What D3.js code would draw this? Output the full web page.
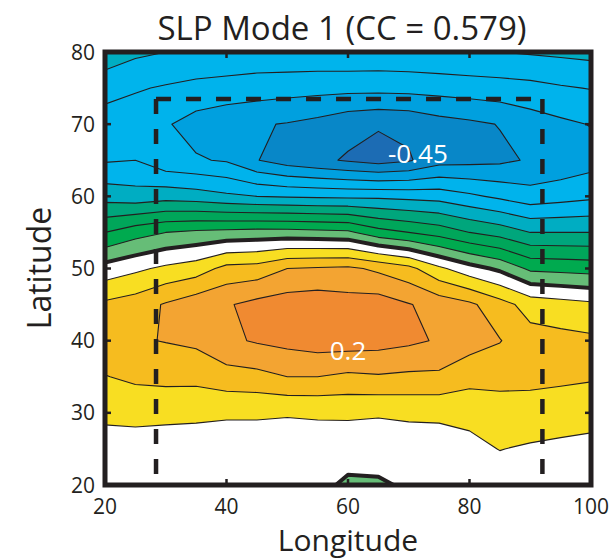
<!DOCTYPE html>
<html><head><meta charset="utf-8">
<script src="https://cdn.jsdelivr.net/npm/d3@7"></script>
<style>body{margin:0;background:#fff} svg{display:block}</style>
</head><body>
<svg id="chart" width="613" height="560"></svg>
<script>
// ---- data (grid of SLP regression values, 5 deg spacing) ----
const lons = [20,25,30,35,40,45,50,55,60,65,70,75,80,85,90,95,100];
const lats = [80,75,70,65,60,55,50,45,40,35,30,25,20];
const slp80 = [-0.22,-0.24,-0.25,-0.255,-0.26,-0.265,-0.262,-0.262,-0.26,-0.262,-0.26,-0.255,-0.252,-0.25,-0.245,-0.24,-0.235];
const slp75 = [-0.28,-0.295,-0.305,-0.315,-0.32,-0.325,-0.33,-0.333,-0.335,-0.335,-0.333,-0.33,-0.325,-0.32,-0.315,-0.305,-0.298];
const slp70 = [-0.325,-0.33,-0.345,-0.37,-0.385,-0.395,-0.403,-0.415,-0.435,-0.445,-0.44,-0.42,-0.41,-0.398,-0.375,-0.36,-0.348];
const slp65 = [-0.305,-0.30,-0.335,-0.345,-0.355,-0.398,-0.425,-0.44,-0.455,-0.47,-0.455,-0.42,-0.415,-0.41,-0.395,-0.385,-0.37];
const slp60 = [-0.22,-0.23,-0.22,-0.227,-0.24,-0.25,-0.255,-0.258,-0.26,-0.26,-0.265,-0.27,-0.29,-0.31,-0.33,-0.32,-0.31];
const slp55 = [-0.10,-0.07,-0.05,-0.04,-0.035,-0.03,-0.03,-0.035,-0.04,-0.08,-0.10,-0.12,-0.15,-0.17,-0.20,-0.20,-0.20];
const slp50 = [0.02,0.04,0.06,0.075,0.115,0.12,0.15,0.155,0.16,0.14,0.115,0.06,0.02,-0.01,-0.06,-0.065,-0.07];
const slp45 = [0.11,0.125,0.155,0.18,0.195,0.215,0.225,0.23,0.22,0.225,0.203,0.18,0.16,0.12,0.08,0.07,0.06];
const slp40 = [0.135,0.145,0.152,0.16,0.19,0.205,0.215,0.225,0.225,0.22,0.21,0.195,0.17,0.152,0.12,0.115,0.11];
const slp35 = [0.098,0.11,0.115,0.115,0.13,0.135,0.15,0.15,0.14,0.145,0.14,0.14,0.12,0.12,0.115,0.11,0.105];
const slp30 = [0.06,0.063,0.06,0.058,0.055,0.055,0.053,0.055,0.058,0.055,0.06,0.06,0.06,0.07,0.075,0.072,0.07];
const slp25 = [0.03,0.03,0.03,0.03,0.03,0.03,0.03,0.03,0.02,0.02,0.02,0.025,0.04,0.051,0.045,0.04,0.034];
const slp20 = [0.02,0.025,0.025,0.02,0.02,0.02,0.015,0.012,-0.008,-0.006,0.006,0.015,0.02,0.03,0.03,0.025,0.02];

const levels = [-0.45,-0.4,-0.35,-0.3,-0.25,-0.2,-0.15,-0.1,-0.05,0,0.05,0.1,0.15,0.2];
const baseColor = "#1c6cb4";
const levelColors = ["#0887c8","#00a0df","#00b3ec","#00b4ec","#00adc2","#00a67c","#00a65a","#00aa4f","#66bd77","#ffffff","#f8de22","#f6bc1f","#f3a432","#f08a31"];

const lonTicks = [20,40,60,80,100];
const latTicks = [20,30,40,50,60,70,80];
const boxLon = [28.4, 92];
const boxLat = [20, 73.5];
const labelText = ["-0.45","0.2"];
const labelLon = [71.5, 60.0];
const labelLat = [64.6, 37.3];

// ---- drawing ----
const svg = d3.select("#chart");
const x = d3.scaleLinear().domain([20,100]).range([105,591]);
const y = d3.scaleLinear().domain([20,80]).range([485,52]);
const ink = "#231f20";
const font = "'Open Sans', 'Noto Sans', sans-serif";

const rows = [slp80,slp75,slp70,slp65,slp60,slp55,slp50,slp45,slp40,slp35,slp30,slp25,slp20];
const nx = lons.length, ny = lats.length;
const values = rows.flat();
const dLon = lons[1]-lons[0], dLat = lats[0]-lats[1];
const proj = d3.geoTransform({point(px,py){
  this.stream.point(x(lons[0] + (px-0.5)*dLon), y(lats[0] - (py-0.5)*dLat));
}});
const path = d3.geoPath(proj);
const cs = d3.contours().size([nx,ny]).thresholds(levels)(values);

svg.append("clipPath").attr("id","clip").append("rect")
  .attr("x",x(20)).attr("y",y(80)).attr("width",x(100)-x(20)).attr("height",y(20)-y(80));

const g = svg.append("g").attr("clip-path","url(#clip)");
g.append("rect").attr("x",x(20)).attr("y",y(80)).attr("width",x(100)-x(20)).attr("height",y(20)-y(80)).attr("fill",baseColor);
g.selectAll("path.fill").data(cs).join("path").attr("class","fill")
  .attr("d",path).attr("fill",(d,i)=>levelColors[i]).attr("fill-rule","evenodd").attr("stroke","none");
g.selectAll("path.line").data(cs).join("path").attr("class","line")
  .attr("d",path).attr("fill","none").attr("stroke",ink)
  .attr("stroke-width",d=>d.value===0?4:1.1).attr("stroke-linejoin","round");

// dashed box
const dash = svg.append("g").attr("stroke",ink).attr("stroke-width",4.5).attr("stroke-dasharray","15,15").attr("fill","none");
dash.append("line").attr("x1",x(boxLon[0])).attr("y1",y(boxLat[1])).attr("x2",x(boxLon[0])).attr("y2",y(boxLat[0]));
dash.append("line").attr("x1",x(boxLon[0])).attr("y1",y(boxLat[1])).attr("x2",x(boxLon[1])).attr("y2",y(boxLat[1]));
dash.append("line").attr("x1",x(boxLon[1])).attr("y1",y(boxLat[1])).attr("x2",x(boxLon[1])).attr("y2",y(boxLat[0]));

// contour labels
svg.selectAll("text.clab").data(labelText).join("text").attr("class","clab")
  .attr("x",(d,i)=>x(labelLon[i])).attr("y",(d,i)=>y(labelLat[i]))
  .attr("text-anchor","middle").attr("fill","#fff").attr("font-family",font).attr("font-size",26)
  .text(d=>d);

// frame and ticks
svg.append("rect").attr("x",x(20)).attr("y",y(80)).attr("width",x(100)-x(20)).attr("height",y(20)-y(80))
  .attr("fill","none").attr("stroke",ink).attr("stroke-width",5);
const tk = svg.append("g").attr("stroke",ink).attr("stroke-width",2.5);
lonTicks.slice(1,-1).forEach(v=>{
  tk.append("line").attr("x1",x(v)).attr("x2",x(v)).attr("y1",y(20)).attr("y2",y(20)-6);
  tk.append("line").attr("x1",x(v)).attr("x2",x(v)).attr("y1",y(80)).attr("y2",y(80)+6);
});
latTicks.slice(1,-1).forEach(v=>{
  tk.append("line").attr("x1",x(20)).attr("x2",x(20)+6).attr("y1",y(v)).attr("y2",y(v));
  tk.append("line").attr("x1",x(100)).attr("x2",x(100)-6).attr("y1",y(v)).attr("y2",y(v));
});

// tick labels
svg.selectAll("text.xt").data(lonTicks).join("text").attr("class","xt")
  .attr("x",d=>x(d)).attr("y",514).attr("text-anchor","middle")
  .attr("font-family",font).attr("font-size",21).attr("fill",ink).text(d=>d);
svg.selectAll("text.yt").data(latTicks).join("text").attr("class","yt")
  .attr("x",95).attr("y",d=>y(d)+7.5).attr("text-anchor","end")
  .attr("font-family",font).attr("font-size",21).attr("fill",ink).text(d=>d);

// titles
svg.append("text").attr("x",342).attr("y",40).attr("text-anchor","middle")
  .attr("font-family",font).attr("font-size",33).attr("fill",ink).text("SLP Mode 1 (CC = 0.579)");
svg.append("text").attr("x",348).attr("y",551).attr("text-anchor","middle")
  .attr("font-family",font).attr("font-size",30).attr("fill",ink).text("Longitude");
svg.append("text").attr("transform","translate(51,268) rotate(-90)").attr("text-anchor","middle")
  .attr("font-family",font).attr("font-size",32).attr("fill",ink).text("Latitude");
</script>
</body></html>
